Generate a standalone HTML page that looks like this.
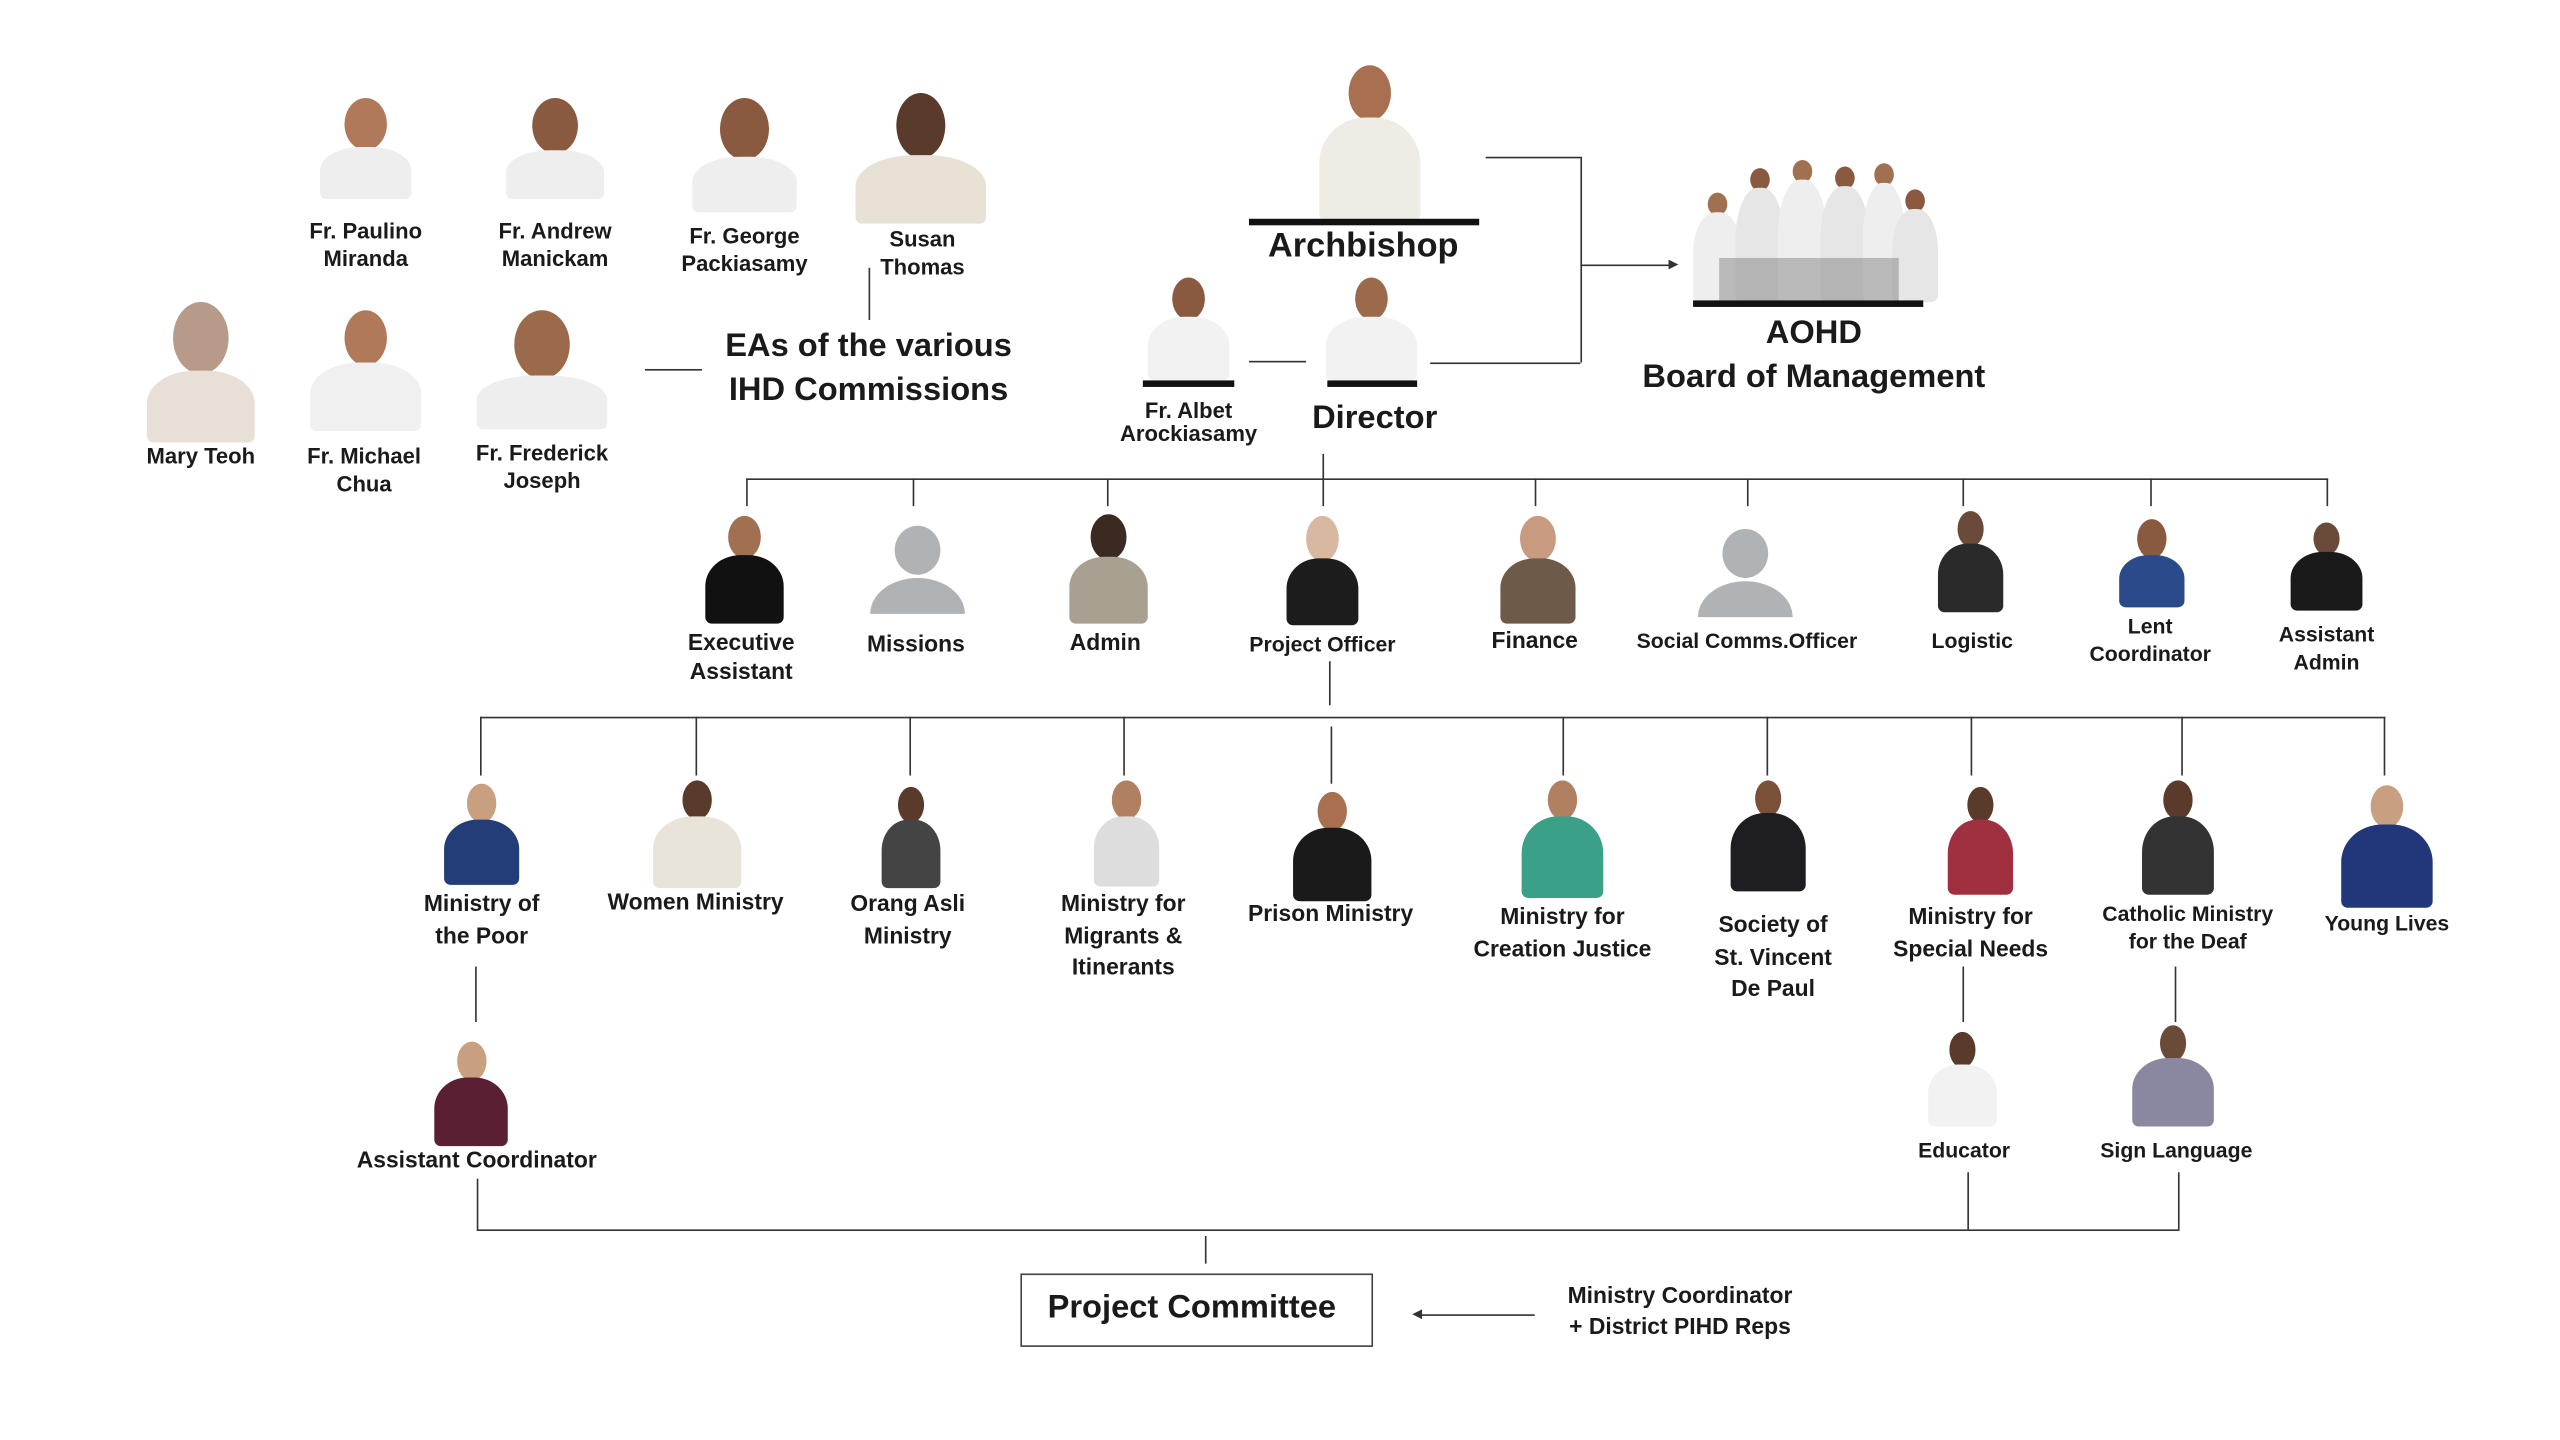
<!DOCTYPE html>
<html><head><meta charset="utf-8">
<style>
html,body{margin:0;padding:0;background:#fff;width:2560px;height:1440px;overflow:hidden}
#w{position:absolute;left:0;top:0;width:1568px;height:882px;transform:scale(1.63265);transform-origin:0 0;font-family:"Liberation Sans",sans-serif;color:#1a1a1a}
.t{position:absolute;transform:translateX(-50%);text-align:center;white-space:nowrap;font-weight:bold;font-size:13.5px;line-height:17px}
.T{position:absolute;transform:translateX(-50%);text-align:center;white-space:nowrap;font-weight:bold;font-size:20px;line-height:27px}
.l{position:absolute;background:#333}
.p{position:absolute}
.p .h{position:absolute;left:50%;transform:translateX(-50%);border-radius:50%}
.p .b{position:absolute;left:0;right:0;bottom:0;border-radius:45% 45% 4px 4px}
.bar{position:absolute;height:4px;background:#111}
</style></head><body><div id="w">

<!-- EAs photos -->
<div class="p" style="left:196px;top:60px;width:56px;height:62px"><div class="h" style="top:0;width:26px;height:32px;background:#b07a5a"></div><div class="b" style="top:30px;background:#eee"></div></div>
<div class="p" style="left:310px;top:60px;width:60px;height:62px"><div class="h" style="top:0;width:28px;height:34px;background:#8a5a40"></div><div class="b" style="top:32px;background:#eee"></div></div>
<div class="p" style="left:424px;top:60px;width:64px;height:70px"><div class="h" style="top:0;width:30px;height:38px;background:#8a5a40"></div><div class="b" style="top:36px;background:#eee"></div></div>
<div class="p" style="left:524px;top:57px;width:80px;height:80px"><div class="h" style="top:0;width:30px;height:40px;background:#5a3a2a"></div><div class="b" style="top:38px;background:#e8e2d6"></div></div>
<div class="p" style="left:90px;top:185px;width:66px;height:86px"><div class="h" style="top:0;width:34px;height:44px;background:#b89a88"></div><div class="b" style="top:42px;background:#e8e0d6"></div></div>
<div class="p" style="left:190px;top:190px;width:68px;height:74px"><div class="h" style="top:0;width:26px;height:34px;background:#b07a5a"></div><div class="b" style="top:32px;background:#f0f0f0"></div></div>
<div class="p" style="left:292px;top:190px;width:80px;height:73px"><div class="h" style="top:0;width:34px;height:42px;background:#9a6a4a"></div><div class="b" style="top:40px;background:#eee"></div></div>

<div class="t" style="left:224px;top:133px">Fr. Paulino<br>Miranda</div>
<div class="t" style="left:340px;top:133px">Fr. Andrew<br>Manickam</div>
<div class="t" style="left:456px;top:136px">Fr. George<br>Packiasamy</div>
<div class="t" style="left:565px;top:138px">Susan<br>Thomas</div>
<div class="t" style="left:123px;top:271px">Mary Teoh</div>
<div class="t" style="left:223px;top:271px">Fr. Michael<br>Chua</div>
<div class="t" style="left:332px;top:269px">Fr. Frederick<br>Joseph</div>
<div class="l" style="left:395px;top:226px;width:35px;height:1px"></div>
<div class="l" style="left:532px;top:164px;width:1px;height:32px"></div>
<div class="T" style="left:532px;top:199px">EAs of the various<br>IHD Commissions</div>

<!-- Archbishop & director -->
<div class="p" style="left:808px;top:40px;width:62px;height:95px"><div class="h" style="top:0;width:26px;height:34px;background:#a87050"></div><div class="b" style="top:32px;background:#efece6"></div></div>
<div class="bar" style="left:765px;top:134px;width:141px"></div>
<div class="T" style="left:835px;top:137px;font-size:21px">Archbishop</div>
<div class="p" style="left:812px;top:170px;width:56px;height:63px"><div class="h" style="top:0;width:20px;height:26px;background:#9a6a4a"></div><div class="b" style="top:24px;background:#f2f2f2"></div></div>
<div class="bar" style="left:813px;top:233px;width:55px"></div>
<div class="T" style="left:842px;top:243px">Director</div>
<div class="p" style="left:703px;top:170px;width:50px;height:63px"><div class="h" style="top:0;width:20px;height:26px;background:#8a5a40"></div><div class="b" style="top:24px;background:#f2f2f2"></div></div>
<div class="bar" style="left:700px;top:233px;width:56px"></div>
<div class="t" style="left:728px;top:245px;line-height:14px">Fr. Albet<br>Arockiasamy</div>
<div class="l" style="left:765px;top:221px;width:35px;height:1px"></div>

<div class="l" style="left:910px;top:96px;width:58px;height:1px"></div>
<div class="l" style="left:968px;top:96px;width:1px;height:126px"></div>
<div class="l" style="left:876px;top:222px;width:92px;height:1px"></div>
<div class="l" style="left:968px;top:162px;width:55px;height:1px"></div>
<div style="position:absolute;left:1022px;top:159px;width:0;height:0;border-left:6px solid #333;border-top:3.5px solid transparent;border-bottom:3.5px solid transparent"></div>

<!-- AOHD -->
<div style="position:absolute;left:1033px;top:98px;width:154px;height:87px">
<div class="p" style="left:4px;top:20px;width:30px;height:67px"><div class="h" style="top:0;width:12px;height:14px;background:#a07050"></div><div class="b" style="top:12px;background:#eee"></div></div>
<div class="p" style="left:30px;top:5px;width:30px;height:82px"><div class="h" style="top:0;width:12px;height:14px;background:#8a5a40"></div><div class="b" style="top:12px;background:#e6e6e6"></div></div>
<div class="p" style="left:56px;top:0px;width:30px;height:87px"><div class="h" style="top:0;width:12px;height:14px;background:#a07050"></div><div class="b" style="top:12px;background:#eee"></div></div>
<div class="p" style="left:82px;top:4px;width:30px;height:83px"><div class="h" style="top:0;width:12px;height:14px;background:#8a5a40"></div><div class="b" style="top:12px;background:#e6e6e6"></div></div>
<div class="p" style="left:108px;top:2px;width:26px;height:85px"><div class="h" style="top:0;width:12px;height:14px;background:#a07050"></div><div class="b" style="top:12px;background:#eee"></div></div>
<div class="p" style="left:126px;top:18px;width:28px;height:69px"><div class="h" style="top:0;width:12px;height:14px;background:#8a5a40"></div><div class="b" style="top:12px;background:#e6e6e6"></div></div>
<div style="position:absolute;left:20px;top:60px;width:110px;height:27px;background:#555;opacity:.35"></div>
</div>
<div class="bar" style="left:1037px;top:184px;width:141px"></div>
<div class="T" style="left:1111px;top:191px">AOHD<br>Board of Management</div>

<!-- level 2 lines -->
<div class="l" style="left:810px;top:278px;width:1px;height:15px"></div>
<div class="l" style="left:457px;top:293px;width:969px;height:1px"></div>
<div class="l" style="left:457px;top:293px;width:1px;height:17px"></div>
<div class="l" style="left:559px;top:293px;width:1px;height:17px"></div>
<div class="l" style="left:678px;top:293px;width:1px;height:17px"></div>
<div class="l" style="left:810px;top:293px;width:1px;height:17px"></div>
<div class="l" style="left:940px;top:293px;width:1px;height:17px"></div>
<div class="l" style="left:1070px;top:293px;width:1px;height:17px"></div>
<div class="l" style="left:1202px;top:293px;width:1px;height:17px"></div>
<div class="l" style="left:1317px;top:293px;width:1px;height:17px"></div>
<div class="l" style="left:1425px;top:293px;width:1px;height:17px"></div>

<!-- level 2 photos -->
<div class="p" style="left:432px;top:316px;width:48px;height:66px"><div class="h" style="top:0;width:20px;height:26px;background:#a07050"></div><div class="b" style="top:24px;background:#111"></div></div>
<div class="p" style="left:533px;top:322px;width:58px;height:54px"><div class="h" style="top:0;width:28px;height:30px;background:#b0b3b6"></div><div class="b" style="top:32px;border-radius:50% 50% 0 0/100% 100% 0 0;background:#b0b3b6"></div></div>
<div class="p" style="left:655px;top:315px;width:48px;height:67px"><div class="h" style="top:0;width:22px;height:28px;background:#3a2a22"></div><div class="b" style="top:26px;background:#a8a090"></div></div>
<div class="p" style="left:788px;top:316px;width:44px;height:67px"><div class="h" style="top:0;width:20px;height:28px;background:#d8b8a0"></div><div class="b" style="top:26px;background:#1c1c1c"></div></div>
<div class="p" style="left:919px;top:316px;width:46px;height:66px"><div class="h" style="top:0;width:22px;height:28px;background:#c89a80"></div><div class="b" style="top:26px;background:#6e5a48"></div></div>
<div class="p" style="left:1040px;top:324px;width:58px;height:54px"><div class="h" style="top:0;width:28px;height:30px;background:#b0b3b6"></div><div class="b" style="top:32px;border-radius:50% 50% 0 0/100% 100% 0 0;background:#b0b3b6"></div></div>
<div class="p" style="left:1187px;top:313px;width:40px;height:62px"><div class="h" style="top:0;width:16px;height:22px;background:#6a4a38"></div><div class="b" style="top:20px;background:#2a2a2a"></div></div>
<div class="p" style="left:1298px;top:318px;width:40px;height:54px"><div class="h" style="top:0;width:18px;height:24px;background:#8a5a40"></div><div class="b" style="top:22px;background:#2a4a8a"></div></div>
<div class="p" style="left:1403px;top:320px;width:44px;height:54px"><div class="h" style="top:0;width:16px;height:20px;background:#6a4a38"></div><div class="b" style="top:18px;background:#1a1a1a"></div></div>

<div class="t" style="left:454px;top:384px;font-size:14px;line-height:18px">Executive<br>Assistant</div>
<div class="t" style="left:561px;top:386px;font-size:14px">Missions</div>
<div class="t" style="left:677px;top:385px;font-size:14px">Admin</div>
<div class="t" style="left:810px;top:386px;font-size:13px">Project Officer</div>
<div class="t" style="left:940px;top:384px;font-size:14px">Finance</div>
<div class="t" style="left:1070px;top:384px;font-size:13px">Social Comms.Officer</div>
<div class="t" style="left:1208px;top:384px;font-size:13px">Logistic</div>
<div class="t" style="left:1317px;top:375px;font-size:13px">Lent<br>Coordinator</div>
<div class="t" style="left:1425px;top:380px;font-size:13px">Assistant<br>Admin</div>

<!-- level 3 lines -->
<div class="l" style="left:814px;top:405px;width:1px;height:27px"></div>
<div class="l" style="left:294px;top:439px;width:1167px;height:1px"></div>
<div class="l" style="left:294px;top:439px;width:1px;height:36px"></div>
<div class="l" style="left:426px;top:439px;width:1px;height:36px"></div>
<div class="l" style="left:557px;top:439px;width:1px;height:36px"></div>
<div class="l" style="left:688px;top:439px;width:1px;height:36px"></div>
<div class="l" style="left:815px;top:445px;width:1px;height:35px"></div>
<div class="l" style="left:957px;top:439px;width:1px;height:36px"></div>
<div class="l" style="left:1082px;top:439px;width:1px;height:36px"></div>
<div class="l" style="left:1207px;top:439px;width:1px;height:36px"></div>
<div class="l" style="left:1336px;top:439px;width:1px;height:36px"></div>
<div class="l" style="left:1460px;top:439px;width:1px;height:36px"></div>

<!-- level 3 photos -->
<div class="p" style="left:272px;top:480px;width:46px;height:62px"><div class="h" style="top:0;width:18px;height:24px;background:#c8a080"></div><div class="b" style="top:22px;background:#223d78"></div></div>
<div class="p" style="left:400px;top:478px;width:54px;height:66px"><div class="h" style="top:0;width:18px;height:24px;background:#5a3a2a"></div><div class="b" style="top:22px;background:#e8e4da"></div></div>
<div class="p" style="left:540px;top:482px;width:36px;height:62px"><div class="h" style="top:0;width:16px;height:22px;background:#5a3a2a"></div><div class="b" style="top:20px;background:#444"></div></div>
<div class="p" style="left:670px;top:478px;width:40px;height:65px"><div class="h" style="top:0;width:18px;height:24px;background:#b08060"></div><div class="b" style="top:22px;background:#ddd"></div></div>
<div class="p" style="left:792px;top:485px;width:48px;height:67px"><div class="h" style="top:0;width:18px;height:24px;background:#a87050"></div><div class="b" style="top:22px;background:#1a1a1a"></div></div>
<div class="p" style="left:932px;top:478px;width:50px;height:72px"><div class="h" style="top:0;width:18px;height:24px;background:#b08060"></div><div class="b" style="top:22px;background:#3aa088"></div></div>
<div class="p" style="left:1060px;top:478px;width:46px;height:68px"><div class="h" style="top:0;width:16px;height:22px;background:#7a5038"></div><div class="b" style="top:20px;background:#1e1e22"></div></div>
<div class="p" style="left:1193px;top:482px;width:40px;height:66px"><div class="h" style="top:0;width:16px;height:22px;background:#5a3a2a"></div><div class="b" style="top:20px;background:#a03040"></div></div>
<div class="p" style="left:1312px;top:478px;width:44px;height:70px"><div class="h" style="top:0;width:18px;height:24px;background:#5a3a2a"></div><div class="b" style="top:22px;background:#333"></div></div>
<div class="p" style="left:1434px;top:481px;width:56px;height:75px"><div class="h" style="top:0;width:20px;height:26px;background:#c8a080"></div><div class="b" style="top:24px;background:#22367a"></div></div>

<div class="t" style="left:295px;top:544px;font-size:14px;line-height:19.5px">Ministry of<br>the Poor</div>
<div class="t" style="left:426px;top:544px;font-size:14px">Women Ministry</div>
<div class="t" style="left:556px;top:544px;font-size:14px;line-height:19.5px">Orang Asli<br>Ministry</div>
<div class="t" style="left:688px;top:544px;font-size:14px;line-height:19.5px">Ministry for<br>Migrants &amp;<br>Itinerants</div>
<div class="t" style="left:815px;top:551px;font-size:14px">Prison Ministry</div>
<div class="t" style="left:957px;top:552px;font-size:14px;line-height:19.5px">Ministry for<br>Creation Justice</div>
<div class="t" style="left:1086px;top:557px;font-size:14px;line-height:19.5px">Society of<br>St. Vincent<br>De Paul</div>
<div class="t" style="left:1207px;top:552px;font-size:14px;line-height:19.5px">Ministry for<br>Special Needs</div>
<div class="t" style="left:1340px;top:551px;font-size:13px">Catholic Ministry<br>for the Deaf</div>
<div class="t" style="left:1462px;top:557px;font-size:13px">Young Lives</div>

<!-- level 4 -->
<div class="l" style="left:291px;top:592px;width:1px;height:34px"></div>
<div class="l" style="left:1202px;top:592px;width:1px;height:34px"></div>
<div class="l" style="left:1332px;top:592px;width:1px;height:34px"></div>
<div class="p" style="left:266px;top:638px;width:45px;height:64px"><div class="h" style="top:0;width:18px;height:24px;background:#c8a080"></div><div class="b" style="top:22px;background:#5a1f33"></div></div>
<div class="p" style="left:1181px;top:632px;width:42px;height:58px"><div class="h" style="top:0;width:16px;height:22px;background:#5a3a2a"></div><div class="b" style="top:20px;background:#f2f2f2"></div></div>
<div class="p" style="left:1306px;top:628px;width:50px;height:62px"><div class="h" style="top:0;width:16px;height:22px;background:#6a4a38"></div><div class="b" style="top:20px;background:#8a88a0"></div></div>
<div class="t" style="left:292px;top:702px;font-size:14px">Assistant Coordinator</div>
<div class="t" style="left:1203px;top:696px;font-size:13px">Educator</div>
<div class="t" style="left:1333px;top:696px;font-size:13px">Sign Language</div>

<!-- bottom -->
<div class="l" style="left:292px;top:722px;width:1px;height:31px"></div>
<div class="l" style="left:1205px;top:718px;width:1px;height:35px"></div>
<div class="l" style="left:1334px;top:718px;width:1px;height:35px"></div>
<div class="l" style="left:292px;top:753px;width:1043px;height:1px"></div>
<div class="l" style="left:738px;top:757px;width:1px;height:17px"></div>
<div style="position:absolute;left:625px;top:780px;width:216px;height:45px;border:1px solid #444;box-sizing:border-box"></div>
<div class="T" style="left:730px;top:788px;font-size:20px">Project Committee</div>
<div class="l" style="left:870px;top:805px;width:70px;height:1px"></div>
<div style="position:absolute;left:865px;top:802px;width:0;height:0;border-right:6px solid #333;border-top:3.5px solid transparent;border-bottom:3.5px solid transparent"></div>
<div class="t" style="left:1029px;top:784px;font-size:14px;line-height:19px">Ministry Coordinator<br>+ District PIHD Reps</div>

</div></body></html>
